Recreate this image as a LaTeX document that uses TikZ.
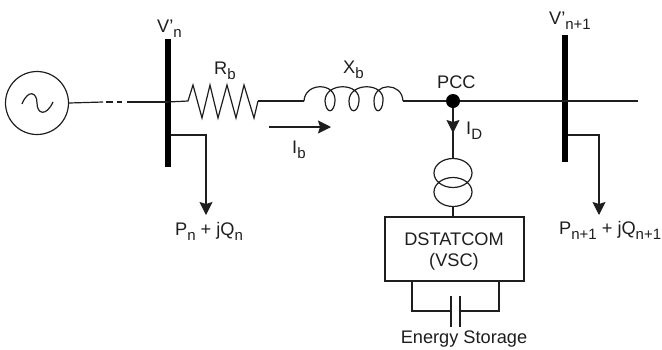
\documentclass[tikz,border=0pt]{standalone}
\usepackage{fontspec}
\setmainfont{Liberation Sans}
\usetikzlibrary{arrows.meta,shapes.geometric}
\definecolor{ink}{HTML}{1E1E1E}
\tikzset{
  wire/.style={draw=ink,line width=1.2pt},
  heavy/.style={draw=black,line width=6pt},
  flow/.style={wire,-{Stealth[length=13pt,width=13pt,inset=2pt]}},
  lab/.style={text=ink,font=\fontsize{18.2}{21}\selectfont,inner sep=0pt},
  winding/.style={draw=ink,line width=1.2pt,ellipse,minimum width=38pt,minimum height=29pt,inner sep=0pt},
}
\newcommand{\sbs}[1]{\raisebox{-5pt}{\fontsize{15}{18}\selectfont #1}}
\begin{document}
\begin{tikzpicture}[x=1pt,y=-1pt]
\useasboundingbox (0,0) rectangle (662,349);
% source
\node[wire,circle,minimum size=63pt,inner sep=0pt] (src) at (37,103) {};
\draw[wire] (22,104) .. controls (28,89) and (37,92) .. (37,103) .. controls (37,114) and (46,117) .. (53,102);
% buses
\coordinate (b1t) at (168,39); \coordinate (b1b) at (168,167);
\coordinate (b2t) at (565,35); \coordinate (b2b) at (565,162);
\draw[heavy] (b1t) -- (b1b);
\draw[heavy] (b2t) -- (b2b);
% line with break
\coordinate (d1) at (103,102); \coordinate (d2) at (106,102); \coordinate (d3) at (113,102);
\coordinate (d4) at (117,102); \coordinate (d5) at (122,102); \coordinate (d6) at (127,102);
\coordinate (bus1) at (168,102);
\draw[wire] (src.east) -- (d1);
\draw[wire] (d2) -- (d3);
\draw[wire] (d4) -- (d5);
\draw[wire] (d6) -- (bus1);
% resistor
\coordinate (r1) at (188,101); \coordinate (r2) at (258,101);
\draw[wire,line join=miter] (bus1) -- (r1) -- (193,85) -- (202,118) -- (210,85) -- (218,118) -- (227,85) -- (236,118) -- (244,85) -- (254,118) -- (r2);
% inductor
\coordinate (l1) at (304,101); \coordinate (l2) at (403,101);
\draw[wire] (r2) -- (l1);
\draw[wire] (l1) .. controls (305,82) and (336,82) .. (335,101)
  .. controls (334,114) and (326,114) .. (325,101)
  .. controls (325,82) and (361,82) .. (359,101)
  .. controls (358,114) and (349,114) .. (349,101)
  .. controls (349,82) and (385,82) .. (383,101)
  .. controls (382,114) and (374,114) .. (374,101)
  .. controls (374,82) and (402,82) .. (l2);
% PCC
\node[circle,fill=black,minimum size=14pt,inner sep=0pt] (pcc) at (453,101) {};
\coordinate (end) at (638,101);
\draw[wire] (l2) -- (pcc) -- (end);
% transformer
\node[winding] (t1) at (453,173) {};
\node[winding] (t2) at (453,192) {};
\draw[flow] (pcc) -- (453,133);
\coordinate (idm) at (453,130);
\draw[wire] (idm) -- (t1.north);
% converter
\node[wire,minimum width=139pt,minimum height=64pt,inner sep=0pt] (vsc) at (454.5,249) {};
\node[lab,align=center] (vsct) at (454,239) {DSTATCOM};
\node[lab,align=center] (vsct2) at (454,262) {(VSC)};
\draw[wire] (t2.south) -- (453,217);
% capacitor
\coordinate (c1) at (451,311); \coordinate (c2) at (460,311);
\coordinate (c1t) at (451,296); \coordinate (c1b) at (451,327);
\coordinate (c2t) at (460,296); \coordinate (c2b) at (460,327);
\coordinate (vl) at (412,281); \coordinate (vr) at (499,281);
\draw[wire] (vl) |- (c1);
\draw[wire] (vr) |- (c2);
\draw[wire] (c1t) -- (c1b);
\draw[wire] (c2t) -- (c2b);
% loads
\coordinate (la) at (171,135); \coordinate (lb) at (206,215);
\coordinate (ra) at (568,135); \coordinate (rb) at (599,215);
\draw[flow] (la) -| (lb);
\draw[flow] (ra) -| (rb);
% current arrow
\coordinate (ia) at (269,127); \coordinate (ib) at (331,127);
\draw[flow] (ia) -- (ib);
% labels
\node[lab,anchor=base west] (tv1) at (157,32) {V'\sbs{n}};
\node[lab,anchor=base west] (tr) at (214,74) {R\sbs{b}};
\node[lab,anchor=base west] (ti) at (292,153) {I\sbs{b}};
\node[lab,anchor=base west] (tx) at (343,73) {X\sbs{b}};
\node[lab,anchor=base west] (tp) at (437,88) {PCC};
\node[lab,anchor=base west] (td) at (466,134) {I\sbs{D}};
\node[lab,anchor=base west] (tv2) at (549,24) {V'\sbs{n+1}};
\node[lab,anchor=base west] (tl1) at (175,235) {P\sbs{n} + jQ\sbs{n}};
\node[lab,anchor=base west] (tl2) at (559,234) {P\sbs{n+1} + jQ\sbs{n+1}};
\node[lab,anchor=base] (te) at (464,343) {Energy Storage};
\end{tikzpicture}
\end{document}
